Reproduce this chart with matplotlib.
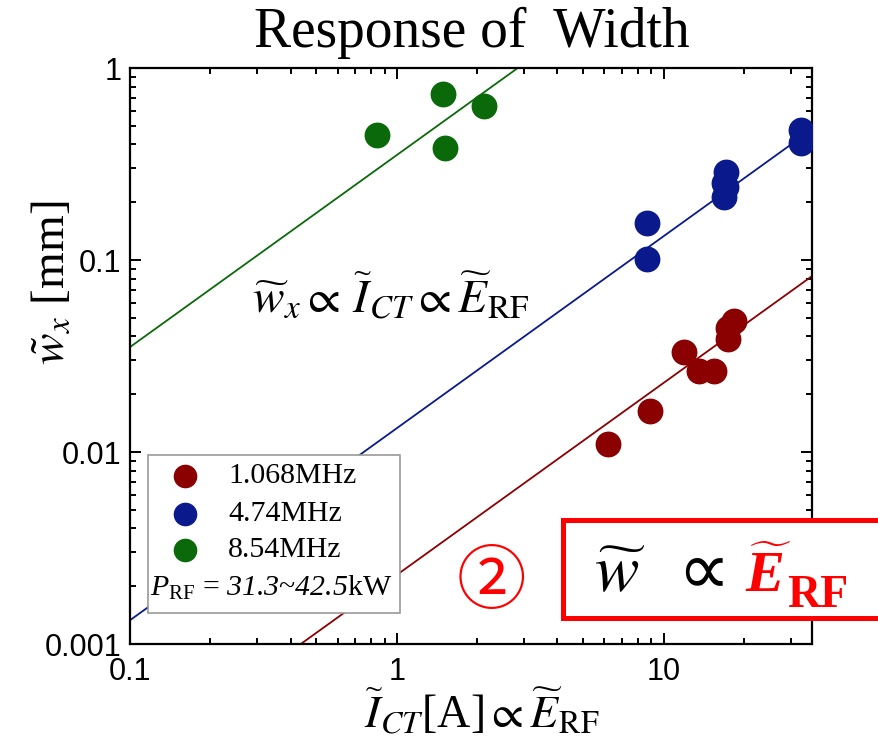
import matplotlib
matplotlib.use("Agg")
import matplotlib.pyplot as plt
import numpy as np
from matplotlib.patches import Rectangle
from matplotlib.ticker import FixedLocator, FixedFormatter, LogLocator, NullFormatter

plt.rcParams['mathtext.fontset'] = 'stix'
# 'custom' math fonts, used only by the P_RF line and the red E~ below
plt.rcParams['mathtext.rm'] = 'Liberation Serif'
plt.rcParams['mathtext.it'] = 'Liberation Serif:italic'
plt.rcParams['mathtext.sf'] = 'Liberation Serif:italic'  # italic digits via \mathsf
plt.rcParams['mathtext.bf'] = 'Liberation Serif:italic:bold'

# series: current I_CT [A] and width w_x [mm]
labels = ["1.068MHz", "4.74MHz", "8.54MHz"]
colors = ["#8b0000", "#0a1a8c", "#0a6a0a"]

x_red = [6.17, 8.87, 11.9, 13.6, 15.4, 17.4, 17.4, 18.4]
y_red = [0.0110, 0.0163, 0.0330, 0.0265, 0.0265, 0.0390, 0.0440, 0.0480]

x_blue = [8.64, 8.64, 17.2, 16.8, 17.2, 16.8, 32.6, 32.6]
y_blue = [0.155, 0.1016, 0.287, 0.251, 0.240, 0.212, 0.475, 0.406]

x_green = [0.842, 1.49, 1.51, 2.12]
y_green = [0.447, 0.732, 0.383, 0.633]

# slope-1 fits: w = k * I
fit_k = [0.00229, 0.0133, 0.352]

xs = [x_red, x_blue, x_green]
ys = [y_red, y_blue, y_green]

fig = plt.figure(figsize=(8.79, 7.5), dpi=100)
ax = fig.add_axes([130/879, 1-644/750, 682/879, 576/750])

xline = np.array([0.1, 36.0])
for k, c in zip(fit_k, colors):
    ax.plot(xline, k*xline, color=c, lw=1.3, zorder=2)
for x, y, c in zip(xs, ys, colors):
    ax.scatter(x, y, s=310, color=c, edgecolors=c, zorder=3)

ax.set_xscale('log')
ax.set_yscale('log')
ax.set_xlim(0.1, 36)
ax.set_ylim(0.001, 1)

ax.xaxis.set_major_locator(FixedLocator([0.1, 1, 10]))
ax.xaxis.set_major_formatter(FixedFormatter(["0.1", "1", "10"]))
ax.yaxis.set_major_locator(FixedLocator([0.001, 0.01, 0.1, 1]))
ax.yaxis.set_major_formatter(FixedFormatter(["0.001", "0.01", "0.1", "1"]))
for a in (ax.xaxis, ax.yaxis):
    a.set_minor_locator(LogLocator(base=10, subs=np.arange(2, 10)))
    a.set_minor_formatter(NullFormatter())

ax.tick_params(which='both', direction='in', top=True, right=True, width=1.4)
ax.tick_params(which='major', length=8, labelsize=22)
ax.tick_params(axis='x', which='major', pad=9)
ax.tick_params(axis='y', which='major', pad=6)
ax.tick_params(which='minor', length=4)
for lab in ax.get_xticklabels() + ax.get_yticklabels():
    lab.set_family('Liberation Sans')
for s in ax.spines.values():
    s.set_linewidth(1.6)

# title and axis labels
fig.text(472/879, 1-33/750, "Response of  Width", ha='center', va='center',
         family='Liberation Serif', fontsize=40)
fig.text(52/879, 1-283/750, r"$\tilde{w}_x$ [mm]", rotation=90, ha='center', va='center',
         family='Liberation Serif', fontsize=34)
fig.text(482/879, 1-712/750, r"$\widetilde{I}_{CT}$[A]$\propto\widetilde{E}_{\mathrm{RF}}$",
         ha='center', va='center', family='Liberation Serif', fontsize=33)

ax.text((391-130)/682, (644-297)/576,
        r"$\widetilde{w}_x\propto\,\widetilde{I}_{CT}\propto\widetilde{E}_{\mathrm{RF}}$",
        transform=ax.transAxes, ha='center', va='center', fontsize=34)

# legend box
ax.add_patch(Rectangle((0.0264, 0.0538), 0.3696, 0.2742, transform=ax.transAxes,
                       fill=True, facecolor='white', edgecolor='#999999', lw=1.2, zorder=4))
for i, (lab, c) in enumerate(zip(labels, colors)):
    yy = [0.2917, 0.2257, 0.163][i]
    ax.plot([0.0806], [yy], 'o', ms=16, color=c, transform=ax.transAxes, zorder=5)
    ax.text(0.1437, yy, lab, transform=ax.transAxes, ha='left', va='center',
            family='Liberation Serif', fontsize=21.5, zorder=5)
ax.text(0.030, 0.0972, r"$P_{\mathrm{RF}}$ = $\mathsf{31.3}$~$\mathsf{42.5}$kW",
        transform=ax.transAxes, ha='left', va='center', family='Liberation Serif',
        fontsize=21.5, math_fontfamily='custom', zorder=5)

# red highlight box (white fill hides the spine behind it)
fig.patches.append(Rectangle((563/879, 1-618/750), 400/879, 98/750, transform=fig.transFigure,
                             facecolor='white', edgecolor='#ff0000', lw=3.6, zorder=6))
fig.text(620/879, 1-592/750, r"$\widetilde{w}$", ha='center', va='baseline', fontsize=48,
         zorder=7)
fig.text(703/879, 1-573/750, "∝", ha='center', va='center', fontsize=53, family='DejaVu Sans',
         zorder=7)
fig.text(745/879, 1-592/750, r"$\widetilde{\mathbf{E}}$", ha='left', va='baseline',
         fontsize=42, color='#ff0000', math_fontfamily='custom', zorder=7)
fig.text(787/879, 1-607/750, "RF", ha='left', va='baseline', fontsize=33, color='#ff0000',
         family='Liberation Serif', weight='bold', zorder=7)
fig.text(491/879, 1-583/750, "②", ha='center', va='center', fontsize=50, color='#ff0000',
         family=['Noto Sans CJK JP', 'DejaVu Sans'])

fig.savefig("out.png", dpi=100)
